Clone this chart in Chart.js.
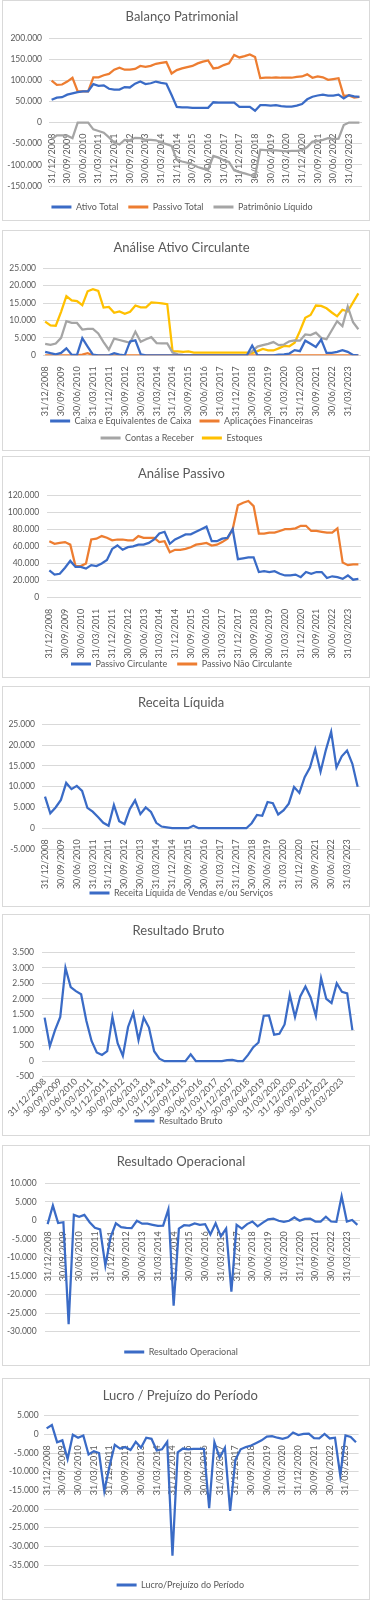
<!DOCTYPE html>
<html><head><meta charset="utf-8">
<script src="https://cdn.jsdelivr.net/npm/chart.js@4.4.0/dist/chart.umd.min.js"></script>
<style>
html,body{margin:0;padding:0;background:#fff;}
body{width:372px;height:1600px;position:relative;overflow:hidden;}
.box{position:absolute;left:2px;width:368px;border:1px solid #d9d9d9;box-sizing:border-box;pointer-events:none;z-index:5;}
canvas{position:absolute;left:2px;}
</style></head><body>
<script>
// ---------- DATA ----------
const quarters = ['31/12/2008','31/03/2009','30/06/2009','30/09/2009','31/12/2009','31/03/2010','30/06/2010','30/09/2010','31/12/2010','31/03/2011',
'30/06/2011','30/09/2011','31/12/2011','31/03/2012','30/06/2012','30/09/2012','31/12/2012','31/03/2013','30/06/2013','30/09/2013',
'31/12/2013','31/03/2014','30/06/2014','30/09/2014','31/12/2014','31/03/2015','30/06/2015','30/09/2015','31/12/2015','31/03/2016',
'30/06/2016','30/09/2016','31/12/2016','31/03/2017','30/06/2017','30/09/2017','31/12/2017','31/03/2018','30/06/2018','30/09/2018',
'31/12/2018','31/03/2019','30/06/2019','30/09/2019','31/12/2019','31/03/2020','30/06/2020','30/09/2020','31/12/2020','31/03/2021',
'30/06/2021','30/09/2021','31/12/2021','31/03/2022','30/06/2022','30/09/2022','31/12/2022','31/03/2023','30/06/2023','30/09/2023'];

const ativoTotal = [54000,59000,60000,66000,69000,72000,74000,74000,91000,87000,
88000,80000,78000,78000,84000,83000,92000,97000,91000,93000,
97000,94000,92000,65000,37000,36000,36000,35000,35000,35000,
35000,48000,47000,47000,47000,47000,37000,37000,37000,28000,
41000,41000,40000,41000,39000,38000,38000,40000,44000,55000,
61000,64000,66000,64000,64000,66000,57000,65000,62000,61000];
const passivoTotal = [99000,89000,90000,97000,106000,74000,74000,74000,107000,107000,
112000,115000,125000,130000,125000,125000,127000,134000,132000,134000,
139000,141000,143000,116000,124000,128000,131000,134000,140000,144000,
147000,128000,130000,136000,140000,160000,154000,157000,161000,155000,
105000,106000,106000,107000,106000,106000,106000,108000,109000,114000,
106000,109000,107000,101000,103000,105000,63000,64000,59000,61000];
const patrimonioLiquido = [-40000,-30000,-30000,-31000,-37000,0,0,0,-16000,-20000,
-24000,-35000,-47000,-52000,-41000,-42000,-36000,-37000,-41000,-41000,
-42000,-47000,-51000,-55000,-88000,-92000,-95000,-99000,-105000,-109000,
-112000,-79000,-83000,-89000,-93000,-113000,-117000,-120000,-124000,-126000,
-64000,-65000,-66000,-66000,-67000,-68000,-67000,-67000,-65000,-58000,
-45000,-44000,-41000,-37000,-39000,-38000,-6000,0,0,0];

const caixa = [1000,600,300,700,2000,200,100,4900,2500,200,
0,0,0,600,200,0,4000,4300,300,0,
0,0,0,0,0,0,0,0,0,0,
0,0,0,0,0,0,0,0,0,2800,
0,0,0,0,200,300,500,1500,1200,4200,
3300,2400,4500,700,700,1000,1500,1000,100,0];
const aplicacoes = [0,0,0,0,0,0,0,200,600,0,
0,0,0,0,0,0,0,0,0,0,
0,0,0,0,0,0,0,0,0,0,
0,0,0,0,0,0,0,0,0,0,
0,0,0,0,0,0,0,0,0,0,
0,0,0,0,0,0,0,0,0,0];
const contasReceber = [3300,3000,3400,5000,9800,9300,9300,7400,7600,7600,
6300,3800,1600,4800,4400,4000,3600,6800,3900,4600,
5200,3500,3400,3400,800,300,100,0,0,0,
0,0,0,0,0,0,0,0,0,1200,
2500,2900,3300,3800,2900,3100,4000,4300,4200,6000,
5800,6500,5000,4600,7200,9800,8400,14000,9500,7500];
const estoques = [9700,8600,8500,12500,17000,15800,15600,14400,18400,19000,
18500,13700,13900,12200,12600,11900,12500,14300,13800,13800,
15200,15100,14900,14700,1200,1100,1000,1100,800,800,
800,800,800,800,800,800,800,800,800,600,
1200,1800,1400,1400,2000,2700,2600,3600,7000,10800,
11600,14300,14200,13500,12300,11200,13100,12600,15200,17800];

const passivoCirculante = [32000,27000,28000,35000,43000,36000,36000,34000,38000,37000,
40000,44000,57000,61000,56000,59000,60000,62000,62000,64000,
68000,75000,77000,63000,68000,71000,74000,74000,77000,80000,
83000,66000,66000,69000,70000,80000,45000,46000,47000,47000,
30000,31000,30000,31000,28000,26000,26000,27000,24000,30000,
28000,30000,30000,23000,25000,24000,22000,26000,21000,22000];
const passivoNaoCirculante = [66000,63000,64000,65000,62000,37000,37000,40000,68000,69000,
72000,70000,67000,68000,68000,67000,67000,72000,70000,70000,
70000,65000,66000,53000,56000,56000,57000,59000,62000,63000,
64000,61000,62000,65000,69000,80000,108000,111000,113000,107000,
75000,75000,76000,76000,78000,80000,80000,81000,84000,84000,
78000,78000,77000,76000,76000,81000,41000,38000,39000,39000];

const receitaLiquida = [7600,3600,5000,6800,10900,9400,10200,9000,4900,4000,
2700,1300,600,5600,1700,1000,4600,6700,3400,5000,
3900,1300,400,200,0,0,0,0,600,0,
0,0,0,0,0,0,0,0,0,1200,
3200,3000,6300,6000,3300,4300,5900,9900,8500,12300,
14600,19000,13600,18800,23200,14600,17300,18700,15500,10000];

const resultadoBruto = [1400,480,1000,1420,3000,2380,2250,2150,1300,650,
280,200,320,1420,580,170,1100,1550,680,1400,
1080,320,80,0,0,0,0,0,220,0,
0,0,0,0,0,30,40,0,0,200,
450,600,1460,1470,850,880,1180,2130,1420,2080,
2400,2050,1450,2670,2000,1870,2500,2230,2180,1000];

const resultadoOperacional = [-1000,4000,-700,-500,-28000,1500,1000,1500,-500,-2000,
-2400,-12200,-4500,-800,-1800,-2000,-2100,-100,-900,-900,
-1200,-1500,-1400,3000,-23000,-2200,-1300,-1400,-800,-1200,
-1000,-3800,-800,-4300,-2200,-19200,-1200,-2200,-1000,-300,
-1600,-600,300,500,-100,-400,-100,800,-100,400,
500,-300,-300,1000,-300,-400,6500,-300,100,-1200];

const lucroPrejuizo = [1600,2500,-2100,-1600,-6600,-100,-900,-300,-5400,-4500,
-5000,-15200,-8500,-2800,-3800,-3400,-4200,-2000,-3600,-900,
-1200,-4300,-4000,-2000,-32500,-4800,-3800,-4000,-3900,-3900,
-3900,-19800,-2100,-6200,-3600,-20500,-6800,-4000,-3400,-3000,
-2300,-1600,-600,-500,-900,-1200,-800,500,-200,100,
200,-1000,-1100,100,-1100,-900,-11000,-300,-700,-2100];

// ---------- STYLE ----------
const BLUE='#3A6BC6', ORANGE='#ED7D31', GRAY='#A5A5A5', YELLOW='#FFC000', TXT='#595959', GRID='#d9d9d9';
Chart.defaults.font.family = 'Lato, "Liberation Sans", sans-serif';
Chart.defaults.color = TXT;

function fmt(v){ const a=Math.abs(v).toString().replace(/\B(?=(\d{3})+(?!\d))/g,'.'); return (v<0?'-':'')+a; }

const CW = 368, CH = 240;
function build(spec){
  const boxDiv = document.createElement('div');
  boxDiv.className='box'; boxDiv.style.top=spec.boxTop+'px'; boxDiv.style.height=spec.boxH+'px';
  const cv = document.createElement('canvas');
  cv.width=CW; cv.height=CH; cv.style.top=spec.boxTop+'px';
  document.body.appendChild(cv); document.body.appendChild(boxDiv);
  const f=9, p=spec.legendPad||10, rows=spec.rows||1;
  const T = spec.legendRow - spec.bottom - p - f/2;
  const LH = T + (f+p)*rows + 10;
  const pb = CH - spec.bottom - LH;
  const tLH = 13*1.2;
  new Chart(cv.getContext('2d'), {
    type:'line',
    data:{labels:quarters, datasets:spec.series.map(s=>({label:s.label,data:s.data,borderColor:s.color,backgroundColor:s.color,borderWidth:2.25,pointRadius:0,pointHoverRadius:0,tension:0,fill:false}))},
    options:{
      responsive:false, animation:false, devicePixelRatio:1,
      layout:{padding:{top:0,left:0,right:CW-spec.right,bottom:pb}},
      plugins:{
        title:{display:true,text:spec.title,color:TXT,font:{size:13,weight:'normal'},padding:{top:spec.titleY-tLH/2,bottom:spec.top-spec.titleY-tLH/2}},
        legend:{position:'bottom',
          title:{display:true,text:'',font:{size:1,lineHeight:1},padding:{top:Math.max(T-1,0),bottom:0}},
          labels:{color:TXT,font:{size:f},padding:p,usePointStyle:true,pointStyle:'line',pointStyleWidth:20,
            generateLabels:(ch)=>Chart.defaults.plugins.legend.labels.generateLabels(ch).map(l=>Object.assign(l,{lineWidth:3}))}},
        tooltip:{enabled:false}
      },
      scales:{
        x:{position:{y:0},offset:true,grid:{display:false},border:{display:false},
           ticks:{autoSkip:false,maxRotation:spec.rot,minRotation:spec.rot,padding:spec.xpad,color:TXT,font:{size:9},
                  callback:(v,i)=> i%3===0 ? quarters[i] : null}},
        y:{min:spec.min,max:spec.max,grid:{color:GRID,lineWidth:1,drawTicks:false},border:{display:false},
           ticks:{stepSize:spec.step,color:TXT,font:{size:8.5},padding:spec.ypad,callback:v=>fmt(v)},
           afterFit:s=>{s.width=spec.left;}}
      }
    }
  });
}

build({boxTop:0,boxH:221,title:'Balanço Patrimonial',titleY:17,top:38,bottom:186,legendRow:207,left:47,right:360,ypad:7,xpad:3,rot:90,
  min:-150000,max:200000,step:50000,
  series:[{label:'Ativo Total',data:ativoTotal,color:BLUE},{label:'Passivo Total',data:passivoTotal,color:ORANGE},{label:'Patrimônio Líquido',data:patrimonioLiquido,color:GRAY}]});
build({boxTop:230,boxH:221,title:'Análise Ativo Circulante',titleY:18,top:38.3,bottom:125.3,legendRow:191,rows:2,legendPad:8,left:40.5,right:359,ypad:6.5,xpad:3,rot:90,
  min:0,max:25000,step:5000,
  series:[{label:'Caixa e Equivalentes de Caixa',data:caixa,color:BLUE},{label:'Aplicações Financeiras',data:aplicacoes,color:ORANGE},{label:'Contas a Receber',data:contasReceber,color:GRAY},{label:'Estoques',data:estoques,color:YELLOW}]});
build({boxTop:456,boxH:222,title:'Análise Passivo',titleY:18,top:39,bottom:141.7,legendRow:208,left:44.7,right:359,ypad:7.4,xpad:3,rot:90,
  min:0,max:120000,step:20000,
  series:[{label:'Passivo Circulante',data:passivoCirculante,color:BLUE},{label:'Passivo Não Circulante',data:passivoNaoCirculante,color:ORANGE}]});
build({boxTop:686,boxH:221,title:'Receita Líquida',titleY:17,top:38.3,bottom:163,legendRow:207,left:40.35,right:358.3,ypad:7.3,xpad:3,rot:90,
  min:-5000,max:25000,step:5000,
  series:[{label:'Receita Líquida de Vendas e/ou Serviços',data:receitaLiquida,color:BLUE}]});
build({boxTop:914,boxH:222,title:'Resultado Bruto',titleY:17,top:38.3,bottom:162.7,legendRow:207,left:38.7,right:353,ypad:8,xpad:7,rot:45,
  min:-500,max:3500,step:500,
  series:[{label:'Resultado Bruto',data:resultadoBruto,color:BLUE}]});
build({boxTop:1145,boxH:221,title:'Resultado Operacional',titleY:17,top:38.3,bottom:186.7,legendRow:207,left:43,right:358,ypad:8.3,xpad:3,rot:90,
  min:-30000,max:10000,step:5000,
  series:[{label:'Resultado Operacional',data:resultadoOperacional,color:BLUE}]});
build({boxTop:1378,boxH:222,title:'Lucro / Prejuízo do Período',titleY:18,top:37.7,bottom:187,legendRow:207,left:42,right:356.6,ypad:5.3,xpad:3,rot:90,
  min:-35000,max:5000,step:5000,
  series:[{label:'Lucro/Prejuízo do Período',data:lucroPrejuizo,color:BLUE}]});
</script>
</body></html>
